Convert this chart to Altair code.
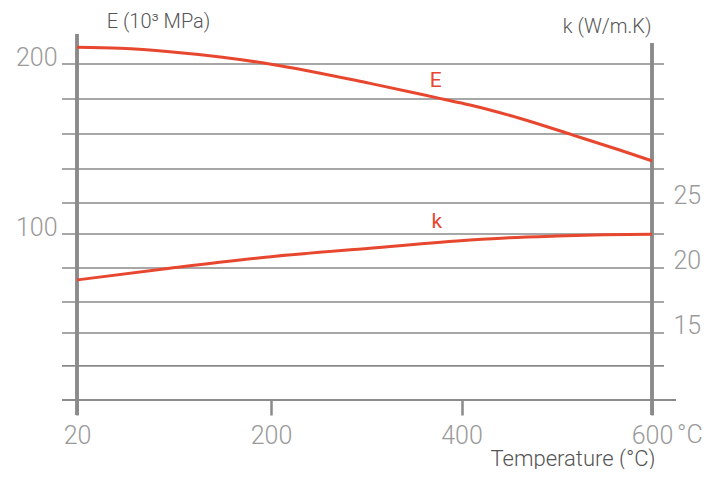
import altair as alt
import pandas as pd

# ---- data ----
x_ticks = [20, 200, 400, 600]

temp_E = [20, 60, 106, 153, 200, 304, 377, 409, 461, 517, 566, 600]
E_vals = [209.8, 209.2, 207.2, 204.1, 199.9, 188.6, 179.8, 175.9, 168.1, 158.2, 149.4, 143.0]

temp_k = [20, 106, 200, 304, 409, 450, 500, 550, 600]
k_vals = [19.08, 19.98, 20.87, 21.52, 22.15, 22.33, 22.46, 22.55, 22.60]

grid_E = [200, 179.4, 158.8, 138.2, 118.2, 100, 80, 60, 41.8, 22.4]
E_ticks = [100, 200]
k_ticks = [15, 20, 25]

RED = "#e8472f"
GRID = "#8a8a8a"
LABEL = "#9a9a9a"
TITLE = "#555555"
FONT = "Roboto"

W, H = 575, 366

dfE = pd.DataFrame({"t": temp_E, "E": E_vals})
dfk = pd.DataFrame({"t": temp_k, "k": k_vals})
dfgrid = pd.DataFrame({"v": grid_E})

xscale = alt.Scale(domain=[20, 200, 600], range=[0, 194, 575], zero=False, nice=False)
escale = alt.Scale(domain=[2.353, 217.65], zero=False, nice=False)
kscale = alt.Scale(domain=[9.846, 38.0], zero=False, nice=False)

xaxis = alt.Axis(values=x_ticks, domain=False, grid=False, ticks=True, tickSize=15,
                 tickWidth=2.5, tickColor=GRID, labelFont=FONT, labelFontSize=25,
                 labelFontWeight=300, labelColor=LABEL, labelPadding=8, labelFlush=False,
                 title="Temperature (°C)", titleFont=FONT, titleFontSize=22,
                 titleFontWeight=300, titleColor=TITLE, titleAlign="right",
                 titleAnchor="end", titleX=578, titleY=65, titleBaseline="alphabetic")

leftaxis = alt.Axis(orient="left", values=E_ticks, domain=False, grid=False, ticks=False,
                    labelFont=FONT, labelFontSize=25, labelFontWeight=300, labelColor=LABEL,
                    labelPadding=20, labelBaseline="alphabetic", labelOffset=1.5,
                    labelFlush=False,
                    title="E (10³ MPa)", titleAngle=0, titleFont=FONT, titleFontSize=20,
                    titleFontWeight=300, titleColor=TITLE, titleAlign="center",
                    titleX=81, titleY=-7, titleBaseline="alphabetic")

rightaxis = alt.Axis(orient="right", values=k_ticks, domain=False, grid=False, ticks=False,
                     labelFont=FONT, labelFontSize=25, labelFontWeight=300, labelColor=LABEL,
                     labelPadding=21, labelBaseline="alphabetic", labelOffset=1,
                     labelFlush=False,
                     title="k (W/m.K)", titleAngle=0, titleFont=FONT, titleFontSize=20,
                     titleFontWeight=300, titleColor=TITLE, titleAlign="right",
                     titleX=-1, titleY=-2, titleBaseline="alphabetic")

X = lambda: alt.X("t:Q", scale=xscale, axis=xaxis)

grid = alt.Chart(dfgrid).mark_rule(color=GRID, strokeWidth=1.6).encode(
    y=alt.Y("v:Q", scale=escale, axis=leftaxis),
    x=alt.value(-15), x2=alt.value(587))

bottom = alt.Chart(dfgrid).mark_rule(color=GRID, strokeWidth=1.6).encode(
    y=alt.value(H), x=alt.value(-15), x2=alt.value(599))

left_line = alt.Chart(dfgrid).mark_rule(color=GRID, strokeWidth=2.5).encode(
    x=alt.value(0), y=alt.value(0), y2=alt.value(H + 15))

right_line = alt.Chart(dfgrid).mark_rule(color=GRID, strokeWidth=2.5).encode(
    x=alt.value(W), y=alt.value(9), y2=alt.value(H + 15))

lineE = alt.Chart(dfE).mark_line(color=RED, strokeWidth=3, interpolate="monotone").encode(
    x=X(), y=alt.Y("E:Q", scale=escale, axis=leftaxis))

textE = alt.Chart(pd.DataFrame({"t": [373], "E": [186.5], "s": ["E"]})).mark_text(
    color=RED, font=FONT, fontSize=21, align="center", baseline="alphabetic").encode(
    x=X(), y=alt.Y("E:Q", scale=escale, axis=leftaxis), text="s:N")

unit = alt.Chart(pd.DataFrame({"t": [600], "s": ["°C"]})).mark_text(
    color=LABEL, font=FONT, fontSize=25, fontWeight=300, align="left",
    baseline="alphabetic", dx=25).encode(x=X(), y=alt.value(409), text="s:N")

lineK = alt.Chart(dfk).mark_line(color=RED, strokeWidth=3, interpolate="monotone").encode(
    x=X(), y=alt.Y("k:Q", scale=kscale, axis=rightaxis))

textK = alt.Chart(pd.DataFrame({"t": [374], "k": [23.08], "s": ["k"]})).mark_text(
    color=RED, font=FONT, fontSize=21, align="center", baseline="alphabetic").encode(
    x=X(), y=alt.Y("k:Q", scale=kscale, axis=rightaxis), text="s:N")

groupE = alt.layer(grid, bottom, left_line, right_line, lineE, textE, unit)
groupK = alt.layer(lineK, textK)

chart = alt.layer(groupE, groupK).resolve_scale(y="independent").properties(
    width=W, height=H,
    autosize=alt.AutoSizeParams(type="none"),
    padding={"left": 69, "top": 26, "right": 56, "bottom": 69},
    background="white",
).configure_view(stroke=None)

chart.save("out.html", embed_options={"renderer": "svg", "actions": False})
